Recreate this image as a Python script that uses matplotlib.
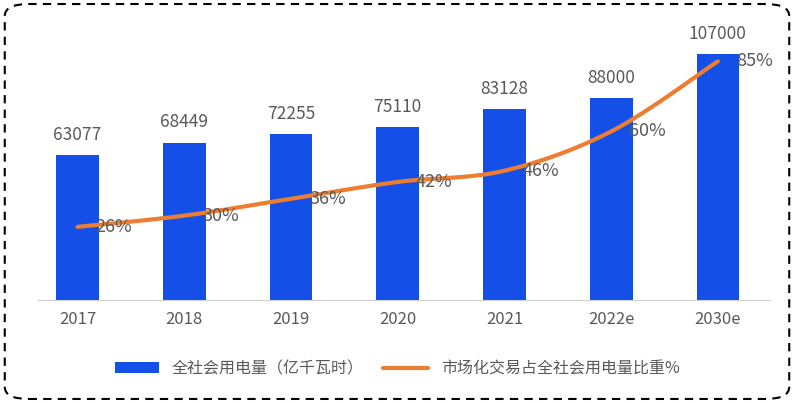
import numpy as np
import matplotlib.pyplot as plt
from matplotlib.patches import FancyBboxPatch

plt.rcParams['font.family'] = ['Noto Sans CJK SC', 'DejaVu Sans']

years = ['2017', '2018', '2019', '2020', '2021', '2022e', '2030e']
power = [63077, 68449, 72255, 75110, 83128, 88000, 107000]
share = [26, 30, 36, 42, 46, 60, 85]

gray = '#595959'
fig = plt.figure(figsize=(7.94, 4.03), dpi=100)
ax = fig.add_axes([0.048, 0.256, 0.922, 0.684])
x = np.arange(len(years))
ax.bar(x, power, width=0.4, color='#1450E8', label='全社会用电量（亿千瓦时）', zorder=2)
for xi, v in zip(x, power):
    ax.annotate(str(v), (xi, v), xytext=(0, 8), textcoords='offset points',
                ha='center', va='bottom', fontsize=12.5, color=gray)
ax.set_ylim(0, 120000)
ax.set_xlim(-0.37, 6.49)
ax.set_xticks(x, years, fontsize=12, color=gray)
ax.tick_params(axis='x', length=0, pad=8)
ax.set_yticks([])
for s in ['top', 'right', 'left']:
    ax.spines[s].set_visible(False)
ax.spines['bottom'].set_color('#d0d0d0')

ax2 = ax.twinx()
# smooth curve via Catmull-Rom through the data points
pts = np.column_stack([x, share]).astype(float)
p = np.vstack([pts[0], pts, pts[-1]])
cx, cy = [], []
for i in range(1, len(p) - 2):
    t = np.linspace(0, 1, 20)[:, None]
    p0, p1, p2, p3 = p[i - 1], p[i], p[i + 1], p[i + 2]
    c = 0.5 * ((2 * p1) + (-p0 + p2) * t + (2 * p0 - 5 * p1 + 4 * p2 - p3) * t ** 2
               + (-p0 + 3 * p1 - 3 * p2 + p3) * t ** 3)
    cx.extend(c[:, 0]); cy.extend(c[:, 1])
ax2.plot(cx, cy, color='#ED7D31', lw=3, label='市场化交易占全社会用电量比重%',
         solid_capstyle='round')
for xi, v in zip(x, share):
    ax2.annotate(f'{v}%', (xi, v), xytext=(13, 0), textcoords='offset points',
                 ha='left', va='center', fontsize=13, color=gray)
ax2.set_ylim(0, 98.2)
ax2.set_yticks([])
for s in ['top', 'right', 'left', 'bottom']:
    ax2.spines[s].set_visible(False)

h1, l1 = ax.get_legend_handles_labels()
h2, l2 = ax2.get_legend_handles_labels()
fig.legend(h1 + h2, l1 + l2, loc='center', bbox_to_anchor=(0.5, 0.085), ncol=2,
           frameon=False, fontsize=11.5, labelcolor=gray, handlelength=2.8,
           columnspacing=1.2)

border = FancyBboxPatch((0.006, 0.01), 0.988, 0.98, boxstyle='round,pad=0,rounding_size=0.03',
                        transform=fig.transFigure, fill=False, ec='black', lw=1.5,
                        ls=(0, (4, 3)))
fig.patches.append(border)
fig.savefig('out.png', dpi=100)
